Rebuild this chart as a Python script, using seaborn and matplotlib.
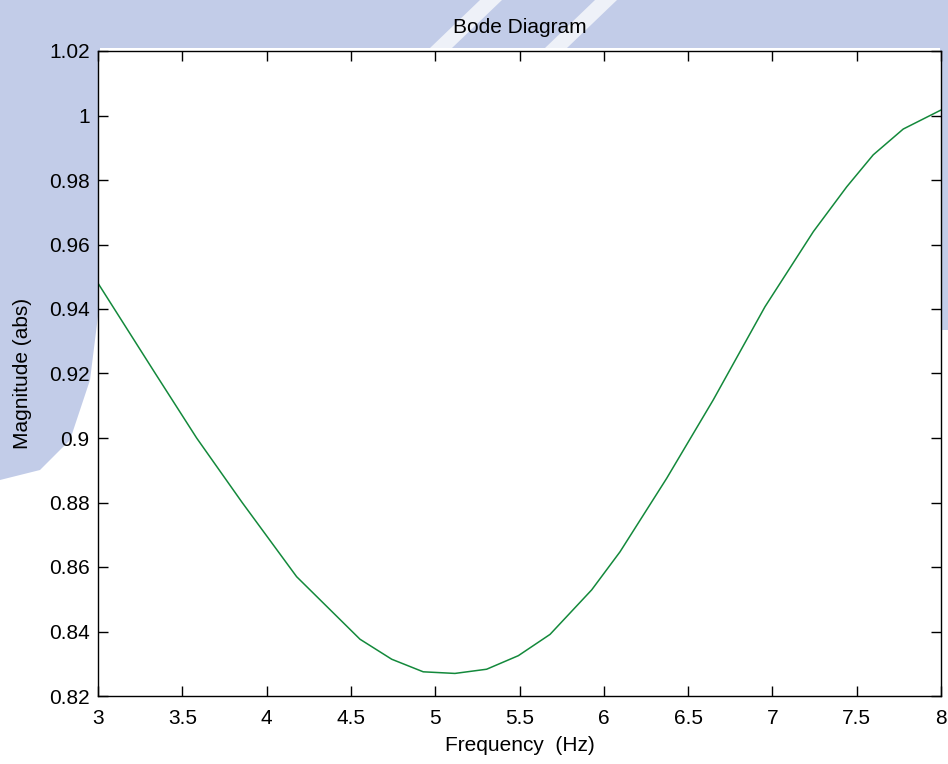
import matplotlib
matplotlib.use("Agg")
import matplotlib.pyplot as plt
import seaborn as sns
import pandas as pd
from matplotlib.patches import Polygon
from matplotlib.ticker import FuncFormatter

# Frequency response samples (Hz, magnitude)
freq_hz = [3.000, 3.340, 3.585, 3.855, 4.178, 4.366, 4.554, 4.742, 4.929,
           5.117, 5.305, 5.493, 5.681, 5.928, 6.096, 6.373, 6.649, 6.956,
           7.243, 7.441, 7.598, 7.776, 8.000]
magnitude = [0.948, 0.920, 0.900, 0.880, 0.857, 0.8473, 0.8376, 0.8314, 0.8275,
             0.8270, 0.8283, 0.8325, 0.8391, 0.8529, 0.8647, 0.8875, 0.9118, 0.9407,
             0.9640, 0.9779, 0.9878, 0.9958, 1.0017]

x_ticks = [3, 3.5, 4, 4.5, 5, 5.5, 6, 6.5, 7, 7.5, 8]
y_ticks = [0.82, 0.84, 0.86, 0.88, 0.90, 0.92, 0.94, 0.96, 0.98, 1.00, 1.02]

title_text = "Bode Diagram"
x_label = "Frequency  (Hz)"
y_label = "Magnitude (abs)"

sns.set_theme(style="white")
plt.rcParams["font.family"] = ["Liberation Sans", "DejaVu Sans"]
plt.rcParams["axes.linewidth"] = 1.0

df = pd.DataFrame({"freq": freq_hz, "mag": magnitude})

W, H = 948, 764
fig = plt.figure(figsize=(W / 100, H / 100), dpi=100)

# faint light-blue page emblem behind the upper and left margins
bg = fig.add_axes([0, 0, 1, 1], zorder=0)
bg.set_xlim(0, W)
bg.set_ylim(H, 0)
bg.axis("off")
band = [(0, 0), (W, 0), (W, 330), (940, 330), (940, 48), (100, 48),
        (100, 300), (90, 380), (70, 440), (40, 470), (0, 480)]
bg.add_patch(Polygon(band, closed=True, facecolor="#c2cce8", edgecolor="none"))
for x0 in (430, 545):
    bg.add_patch(Polygon([(x0, 48), (x0 + 22, 48), (x0 + 72, 0), (x0 + 50, 0)],
                         closed=True, facecolor="#eef1f8", edgecolor="none"))

ax = fig.add_axes([98 / W, 1 - 696 / H, (941 - 98) / W, (696 - 51) / H], zorder=1)
ax.set_facecolor("white")

sns.lineplot(data=df, x="freq", y="mag", color="#13893b", linewidth=1.1, ax=ax,
             sort=False, estimator=None)

ax.set_xlim(3, 8)
ax.set_ylim(0.82, 1.02)
ax.set_xticks(x_ticks)
ax.set_yticks(y_ticks)
fmt = FuncFormatter(lambda v, _: f"{v:g}")
ax.xaxis.set_major_formatter(fmt)
ax.yaxis.set_major_formatter(fmt)

ax.tick_params(axis="both", which="major", direction="in", length=7, width=1,
               color="black", labelsize=15, labelcolor="black",
               top=True, right=True, bottom=True, left=True)
ax.tick_params(axis="x", pad=9)
ax.tick_params(axis="y", pad=6)

for side in ["top", "bottom", "left", "right"]:
    ax.spines[side].set_visible(True)
    ax.spines[side].set_color("black")
    ax.spines[side].set_linewidth(1.0)

ax.set_title(title_text, fontsize=15, pad=13, color="black")
ax.set_xlabel(x_label, fontsize=15, labelpad=6, color="black")
ax.set_ylabel(y_label, fontsize=15, labelpad=12, color="black")

fig.savefig("out.png", dpi=100)
